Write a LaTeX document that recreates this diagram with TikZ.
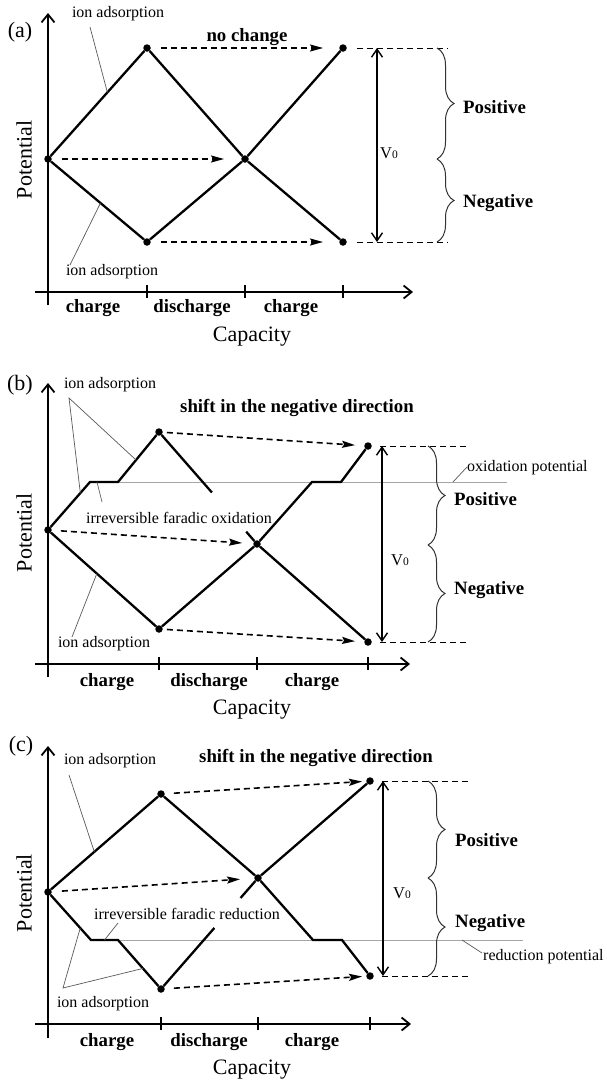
\documentclass[tikz,border=0pt]{standalone}
\usepackage{fontspec}
\setmainfont{Liberation Serif}
\usetikzlibrary{arrows.meta,decorations.pathreplacing,calc}
\begin{document}
\begin{tikzpicture}[x=1pt,y=-1pt,
  curve/.style={line width=2.3pt,line join=miter},
  axisline/.style={line width=2pt,-{Straight Barb[length=8pt,width=13pt,line width=1.8pt]}},
  tickmark/.style={line width=1.6pt},
  dot/.style={circle,fill,inner sep=0pt,minimum size=7.5pt},
  shiftarrow/.style={line width=1.6pt,dash pattern=on 6pt off 4pt,-{Stealth[length=13pt,width=7pt,inset=2pt]}},
  guide/.style={line width=1pt,dash pattern=on 6pt off 4pt},
  vzero/.style={line width=1.5pt,{Straight Barb[length=8pt,width=11pt,line width=1.4pt]}-{Straight Barb[length=8pt,width=11pt,line width=1.4pt]}},
  bracestyle/.style={decorate,decoration={brace,amplitude=17pt},line width=1pt,draw=black!80},
  leader/.style={line width=0.7pt,draw=black!65},
  potline/.style={line width=1pt,draw=black!35},
  small/.style={font=\fontsize{16}{19}\selectfont,inner sep=0pt},
  boldlbl/.style={font=\fontsize{18.8}{22}\selectfont\bfseries,inner sep=0pt},
  axlbl/.style={font=\fontsize{22}{26}\selectfont,inner sep=0pt},
  vlbl/.style={font=\fontsize{16.5}{18}\selectfont,inner sep=0pt}]
\useasboundingbox (0,0) rectangle (606,1082);
\newcommand{\vzerotext}{V{\fontsize{11.5}{11}\selectfont 0}}

% ================= (a) =================
\node[axlbl] (a-lab) at (20,32) {(a)};
\coordinate (a-yb) at (48,305); \coordinate (a-yt) at (48,13);
\coordinate (a-xl) at (35,292); \coordinate (a-xr) at (413,292);
\draw[axisline] (a-yb) -- (a-yt);
\draw[axisline] (a-xl) -- (a-xr);
\coordinate (a-k1) at (147,292); \coordinate (a-k2) at (245,292); \coordinate (a-k3) at (343,292);
\foreach \k in {a-k1,a-k2,a-k3} \draw[tickmark] ([yshift=7pt]\k) -- ([yshift=-6pt]\k);
\node[dot] (a-s) at (48,159) {};
\node[dot] (a-t) at (147,48) {};
\node[dot] (a-b) at (147,242) {};
\node[dot] (a-c) at (245,159) {};
\node[dot] (a-rt) at (343,48) {};
\node[dot] (a-rb) at (343,242) {};
\draw[curve] (a-s) -- (a-t) -- (a-c) -- (a-rb);
\draw[curve] (a-s) -- (a-b) -- (a-c) -- (a-rt);
\draw[shiftarrow,shorten <=10pt,shorten >=16pt] (a-t) -- (a-rt);
\draw[shiftarrow,shorten <=10pt,shorten >=17pt] (a-s) -- (a-c);
\draw[shiftarrow,shorten <=10pt,shorten >=16pt] (a-b) -- (a-rb);
\coordinate (a-g1) at (447,48); \coordinate (a-g2) at (447,242);
\draw[guide,shorten <=10pt] (a-rt) -- (a-g1);
\draw[guide,shorten <=10pt] (a-rb) -- (a-g2);
\coordinate (a-v1) at (377,48); \coordinate (a-v2) at (377,242);
\draw[vzero] (a-v1) -- (a-v2);
\node[vlbl] (a-v0) at (389,153) {\vzerotext};
\coordinate (a-bt) at (437,48); \coordinate (a-bm) at (437,159); \coordinate (a-bb) at (437,242);
\draw[bracestyle] (a-bt) -- (a-bm);
\draw[bracestyle] (a-bm) -- (a-bb);
\node[boldlbl,anchor=west] (a-pos) at (463,107) {Positive};
\node[boldlbl,anchor=west] (a-neg) at (463,203) {Negative};
\node[boldlbl] (a-nc) at (247,37) {no change};
\node[small] (a-ia1) at (118,14) {ion adsorption};
\coordinate (a-l1) at (90,27); \coordinate (a-c1) at ($(a-s)!0.6!(a-t)$);
\draw[leader] (a-l1) -- (a-c1);
\node[small] (a-ia2) at (112,272) {ion adsorption};
\coordinate (a-l2) at (70,265); \coordinate (a-c2) at ($(a-s)!0.53!(a-b)$);
\draw[leader] (a-l2) -- (a-c2);
\node[boldlbl] (a-ch1) at (93,308) {charge};
\node[boldlbl] (a-dc) at (192,308) {discharge};
\node[boldlbl] (a-ch2) at (291,308) {charge};
\node[axlbl] (a-cap) at (252,337) {Capacity};
\node[axlbl,rotate=90] (a-pot) at (24,160) {Potential};

% ================= (b) =================
\node[axlbl] (b-lab) at (20,385) {(b)};
\coordinate (b-yb) at (48,677); \coordinate (b-yt) at (48,383);
\coordinate (b-xl) at (35,664); \coordinate (b-xr) at (410,664);
\draw[axisline] (b-yb) -- (b-yt);
\draw[axisline] (b-xl) -- (b-xr);
\coordinate (b-k1) at (159,664); \coordinate (b-k2) at (257,664); \coordinate (b-k3) at (368,664);
\foreach \k in {b-k1,b-k2,b-k3} \draw[tickmark] ([yshift=7pt]\k) -- ([yshift=-6pt]\k);
\coordinate (b-p1) at (90,482); \coordinate (b-p2) at (118,482);
\coordinate (b-p3) at (312,482); \coordinate (b-p4) at (341,482);
\coordinate (b-ox) at (507,482);
\draw[potline] (b-p1) -- (b-ox);
\node[dot] (b-s) at (48,530) {};
\node[dot] (b-t) at (159,432) {};
\node[dot] (b-b) at (159,629) {};
\node[dot] (b-c) at (257,544) {};
\node[dot] (b-rt) at (368,446) {};
\node[dot] (b-rb) at (368,642) {};
\coordinate (b-q1) at ($(b-t)!0.54!(b-c)$);
\coordinate (b-q2) at ($(b-t)!0.89!(b-c)$);
\draw[curve] (b-s) -- (b-p1) -- (b-p2) -- (b-t) -- (b-q1);
\draw[curve] (b-q2) -- (b-c) -- (b-rb);
\draw[curve] (b-s) -- (b-b) -- (b-c) -- (b-p3) -- (b-p4) -- (b-rt);
\draw[shiftarrow,shorten <=4pt,shorten >=9pt] (b-t) -- (b-rt);
\draw[shiftarrow,shorten <=9pt,shorten >=11pt] (b-s) -- (b-c);
\draw[shiftarrow,shorten <=4pt,shorten >=9pt] (b-b) -- (b-rb);
\coordinate (b-g1) at (467,446); \coordinate (b-g2) at (467,642);
\draw[guide,shorten <=8pt] (b-rt) -- (b-g1);
\draw[guide,shorten <=8pt] (b-rb) -- (b-g2);
\coordinate (b-v1) at (382,446); \coordinate (b-v2) at (382,642);
\draw[vzero] (b-v1) -- (b-v2);
\node[vlbl] (b-v0) at (400,560) {\vzerotext};
\coordinate (b-bt) at (428,446); \coordinate (b-bm) at (428,545); \coordinate (b-bb) at (428,642);
\draw[bracestyle] (b-bt) -- (b-bm);
\draw[bracestyle] (b-bm) -- (b-bb);
\node[boldlbl,anchor=west] (b-pos) at (454,499) {Positive};
\node[boldlbl,anchor=west] (b-neg) at (454,590) {Negative};
\node[boldlbl] (b-sh) at (297,408) {shift in the negative direction};
\node[small,anchor=west] (b-oxl) at (467,468) {oxidation potential};
\coordinate (b-ol1) at (453,482); \coordinate (b-ol2) at (467,467);
\draw[leader] (b-ol1) -- (b-ol2);
\node[small] (b-ia1) at (110,385) {ion adsorption};
\coordinate (b-ap) at (69,398);
\coordinate (b-c1) at ($(b-p2)!0.44!(b-t)$);
\coordinate (b-c2) at ($(b-s)!0.77!(b-p1)$);
\draw[leader] (b-c1) -- (b-ap) -- (b-c2);
\node[small] (b-irr) at (179,518) {irreversible faradic oxidation};
\coordinate (b-c3) at ($(b-p1)!0.25!(b-p2)$); \coordinate (b-l3) at (102,502);
\draw[leader] (b-c3) -- (b-l3);
\node[small] (b-ia2) at (104,644) {ion adsorption};
\coordinate (b-l4) at (72,637); \coordinate (b-c4) at ($(b-s)!0.44!(b-b)$);
\draw[leader] (b-l4) -- (b-c4);
\node[boldlbl] (b-ch1) at (107,682) {charge};
\node[boldlbl] (b-dc) at (209,682) {discharge};
\node[boldlbl] (b-ch2) at (312,682) {charge};
\node[axlbl] (b-cap) at (252,710) {Capacity};
\node[axlbl,rotate=90] (b-pot) at (24,533) {Potential};

% ================= (c) =================
\node[axlbl] (c-lab) at (21,746) {(c)};
\coordinate (c-yb) at (48,1038); \coordinate (c-yt) at (48,746);
\coordinate (c-xl) at (35,1024); \coordinate (c-xr) at (411,1024);
\draw[axisline] (c-yb) -- (c-yt);
\draw[axisline] (c-xl) -- (c-xr);
\coordinate (c-k1) at (161,1024); \coordinate (c-k2) at (258,1024); \coordinate (c-k3) at (370,1024);
\foreach \k in {c-k1,c-k2,c-k3} \draw[tickmark] ([yshift=7pt]\k) -- ([yshift=-6pt]\k);
\coordinate (c-p1) at (91,940); \coordinate (c-p2) at (118,940);
\coordinate (c-p3) at (313,940); \coordinate (c-p4) at (342,940);
\coordinate (c-rd) at (523,940);
\draw[potline] (c-p1) -- (c-rd);
\node[dot] (c-s) at (48,892) {};
\node[dot] (c-t) at (161,794) {};
\node[dot] (c-b) at (161,989) {};
\node[dot] (c-c) at (258,878) {};
\node[dot] (c-rt) at (370,781) {};
\node[dot] (c-rb) at (370,976) {};
\coordinate (c-q1) at ($(c-b)!0.55!(c-c)$);
\coordinate (c-q2) at ($(c-b)!0.82!(c-c)$);
\draw[curve] (c-s) -- (c-t) -- (c-c) -- (c-p3) -- (c-p4) -- (c-rb);
\draw[curve] (c-s) -- (c-p1) -- (c-p2) -- (c-b) -- (c-q1);
\draw[curve] (c-q2) -- (c-c) -- (c-rt);
\draw[shiftarrow,shorten <=9pt,shorten >=4pt] (c-t) -- (c-rt);
\draw[shiftarrow,shorten <=10pt,shorten >=14pt] (c-s) -- (c-c);
\draw[shiftarrow,shorten <=9pt,shorten >=4pt] (c-b) -- (c-rb);
\coordinate (c-g1) at (468,781); \coordinate (c-g2) at (468,976);
\draw[guide,shorten <=8pt] (c-rt) -- (c-g1);
\draw[guide,shorten <=8pt] (c-rb) -- (c-g2);
\coordinate (c-v1) at (383,781); \coordinate (c-v2) at (383,976);
\draw[vzero] (c-v1) -- (c-v2);
\node[vlbl] (c-v0) at (402,893) {\vzerotext};
\coordinate (c-bt) at (428,781); \coordinate (c-bm) at (428,878); \coordinate (c-bb) at (428,976);
\draw[bracestyle] (c-bt) -- (c-bm);
\draw[bracestyle] (c-bm) -- (c-bb);
\node[boldlbl,anchor=west] (c-pos) at (455,840) {Positive};
\node[boldlbl,anchor=west] (c-neg) at (455,923) {Negative};
\node[boldlbl] (c-sh) at (316,758) {shift in the negative direction};
\node[small,anchor=west] (c-rdl) at (483,957) {reduction potential};
\coordinate (c-rl1) at (462,940); \coordinate (c-rl2) at (482,953);
\draw[leader] (c-rl1) -- (c-rl2);
\node[small] (c-ia1) at (110,761) {ion adsorption};
\coordinate (c-l1) at (69,775); \coordinate (c-c1) at ($(c-s)!0.41!(c-t)$);
\draw[leader] (c-l1) -- (c-c1);
\node[small] (c-irr) at (187,914) {irreversible faradic reduction};
\coordinate (c-c3) at ($(c-p1)!0.5!(c-p2)$); \coordinate (c-l3) at (118,923);
\draw[leader] (c-c3) -- (c-l3);
\node[small] (c-ia2) at (103,1004) {ion adsorption};
\coordinate (c-ap) at (63,988);
\coordinate (c-c2) at ($(c-s)!0.75!(c-p1)$);
\coordinate (c-c4) at ($(c-p2)!0.58!(c-b)$);
\draw[leader] (c-c2) -- (c-ap) -- (c-c4);
\node[boldlbl] (c-ch1) at (107,1042) {charge};
\node[boldlbl] (c-dc) at (209,1042) {discharge};
\node[boldlbl] (c-ch2) at (312,1042) {charge};
\node[axlbl] (c-cap) at (252,1070) {Capacity};
\node[axlbl,rotate=90] (c-pot) at (24,893) {Potential};
\end{tikzpicture}
\end{document}
